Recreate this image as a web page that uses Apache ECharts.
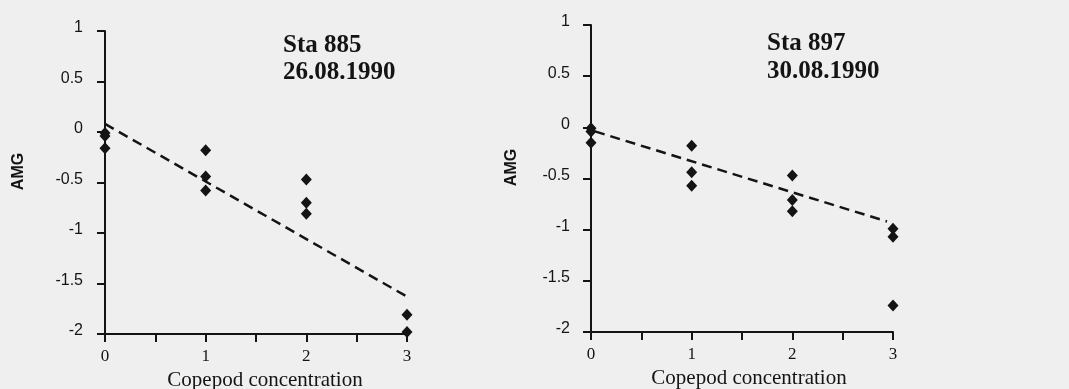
<!DOCTYPE html>
<html>
<head>
<meta charset="utf-8">
<script src="https://cdn.jsdelivr.net/npm/echarts@6/dist/echarts.min.js"></script>
<style>
  html, body { margin: 0; padding: 0; background: #efefef; }
  #chart { width: 1069px; height: 389px; }
</style>
</head>
<body>
<div id="chart"></div>
<script>
// Grazing experiments: AMG against copepod concentration at two stations
const stationTitles = ['Sta 885\n26.08.1990', 'Sta 897\n30.08.1990'];
const xTicks = [0, 1, 2, 3];
const yTicks = [1, 0.5, 0, -0.5, -1, -1.5, -2];

// Sta 885 (26.08.1990)
const sta885Copepods = [0, 0, 0, 1, 1, 1, 2, 2, 2, 3, 3];
const sta885AMG = [-0.01, -0.04, -0.16, -0.18, -0.44, -0.58, -0.47, -0.70, -0.81, -1.81, -1.98];
const sta885FitX = [0, 3];
const sta885FitY = [0.08, -1.63];

// Sta 897 (30.08.1990)
const sta897Copepods = [0, 0, 0, 1, 1, 1, 2, 2, 2, 3, 3, 3];
const sta897AMG = [-0.01, -0.04, -0.15, -0.18, -0.44, -0.57, -0.47, -0.71, -0.82, -0.99, -1.07, -1.74];
const sta897FitX = [0.04, 2.94];
const sta897FitY = [-0.04, -0.92];

const ink = '#141414';
const pairs = (xs, ys) => xs.map((x, i) => [x, ys[i]]);

function xAxisFor(gridIndex, shift) {
  return {
    gridIndex, type: 'value', min: xTicks[0], max: xTicks[xTicks.length - 1], interval: 0.5,
    name: 'Copepod concentration', nameLocation: 'middle', nameGap: 27,
    nameTextStyle: { fontFamily: 'Liberation Serif', fontSize: 21, color: ink, padding: [0, 0, 0, shift] },
    axisLine: { onZero: false, lineStyle: { color: ink, width: 2 } },
    axisTick: { length: 8, lineStyle: { color: ink, width: 2 } },
    splitLine: { show: false },
    axisLabel: {
      margin: 14, fontFamily: 'Liberation Serif', fontSize: 17, color: ink,
      formatter: v => (xTicks.indexOf(v) >= 0 ? String(v) : '')
    }
  };
}

function yAxisFor(gridIndex, gap, margin) {
  return {
    gridIndex, type: 'value', min: yTicks[yTicks.length - 1], max: yTicks[0], interval: 0.5,
    name: 'AMG', nameLocation: 'middle', nameGap: gap, nameRotate: 90,
    nameTextStyle: { fontFamily: 'Liberation Sans', fontWeight: 'bold', fontSize: 16, color: ink, padding: [0, 0, 0, 22] },
    axisLine: { onZero: false, lineStyle: { color: ink, width: 2 } },
    axisTick: { length: 8, lineStyle: { color: ink, width: 2 } },
    splitLine: { show: false },
    axisLabel: {
      margin: margin, fontFamily: 'Liberation Sans', fontSize: 16, color: ink,
      verticalAlign: 'bottom', lineHeight: 6
    }
  };
}

function scatter(idx, xs, ys) {
  return {
    type: 'scatter', xAxisIndex: idx, yAxisIndex: idx, data: pairs(xs, ys),
    symbol: 'diamond', symbolSize: [11, 12], itemStyle: { color: ink, opacity: 1 }, z: 3
  };
}

function fit(idx, xs, ys) {
  return {
    type: 'line', xAxisIndex: idx, yAxisIndex: idx, data: pairs(xs, ys),
    showSymbol: false, symbol: 'none',
    lineStyle: { color: ink, width: 2.5, type: [10, 6] }, z: 2
  };
}

const chart = echarts.init(document.getElementById('chart'), null, { renderer: 'canvas' });
chart.setOption({
  backgroundColor: '#efefef',
  animation: false,
  title: [
    { text: stationTitles[0], left: 283, top: 32, padding: 0,
      textStyle: { fontFamily: 'Liberation Serif', fontWeight: 'bold', fontSize: 25, lineHeight: 27, color: ink } },
    { text: stationTitles[1], left: 767, top: 30, padding: 0,
      textStyle: { fontFamily: 'Liberation Serif', fontWeight: 'bold', fontSize: 25, lineHeight: 28, color: ink } }
  ],
  grid: [
    { left: 105, top: 31, width: 302, height: 303, containLabel: false, outerBoundsMode: 'none' },
    { left: 591, top: 25, width: 302, height: 307, containLabel: false, outerBoundsMode: 'none' }
  ],
  xAxis: [xAxisFor(0, 18), xAxisFor(1, 14)],
  yAxis: [yAxisFor(0, 78, 22), yAxisFor(1, 71, 21)],
  series: [
    fit(0, sta885FitX, sta885FitY),
    scatter(0, sta885Copepods, sta885AMG),
    fit(1, sta897FitX, sta897FitY),
    scatter(1, sta897Copepods, sta897AMG)
  ]
});
</script>
</body>
</html>
